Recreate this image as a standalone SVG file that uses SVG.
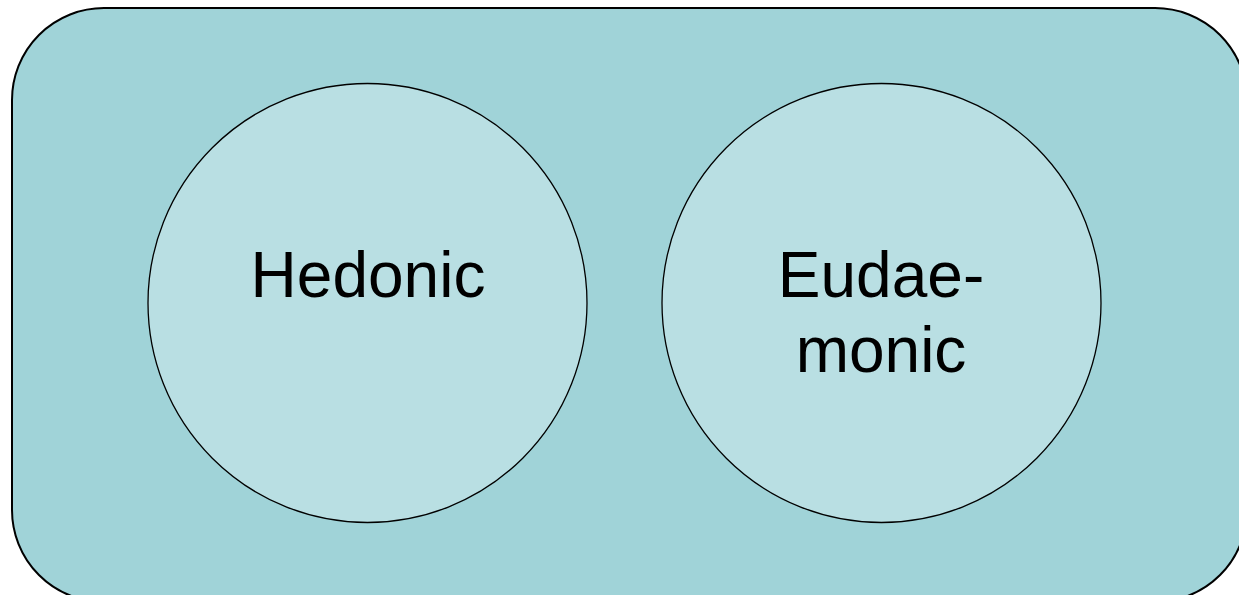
<svg xmlns="http://www.w3.org/2000/svg" width="1239" height="595" viewBox="0 0 1239 595">
<style>
.bg{fill:#A0D3D8;stroke:#000;stroke-width:2}
.c{fill:#B9DFE3;stroke:#000;stroke-width:1.3}
.t{font-family:"Liberation Sans",Arial,sans-serif;font-size:64px;fill:#000;text-anchor:middle}
</style>
<rect class="bg" x="12" y="8" width="1235" height="594" rx="92" ry="92"/>
<g id="hedonic">
<circle class="c" cx="367.5" cy="303" r="219.5"/>
<text class="t" x="368" y="297">Hedonic</text>
</g>
<g id="eudaemonic">
<circle class="c" cx="881.5" cy="303" r="219.5"/>
<text class="t" x="881" y="297">Eudae-</text>
<text class="t" x="881" y="372">monic</text>
</g>
<g id="connectors"/>
</svg>
